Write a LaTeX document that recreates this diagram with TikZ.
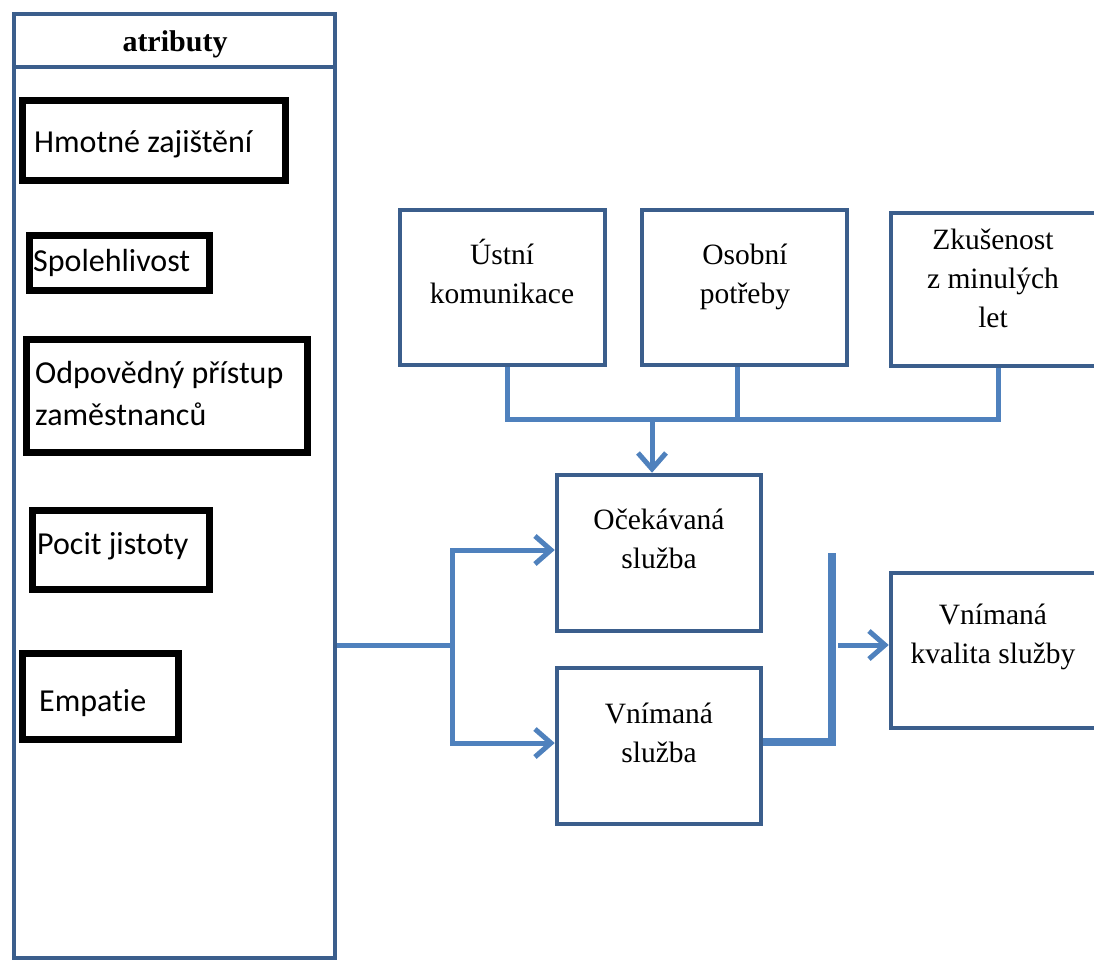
\documentclass[tikz,border=0pt]{standalone}
\usepackage{fontspec}
\setmainfont{Liberation Serif}
\newfontfamily\calibrilike[Ligatures=NoCommon]{Carlito}
\usetikzlibrary{arrows.meta,calc}
\definecolor{frameblue}{HTML}{3B5E8C}
\definecolor{linkblue}{HTML}{4F81BD}
\begin{document}
\begin{tikzpicture}[x=1pt,y=-1pt,
  frame/.style={draw=frameblue,line width=4.5pt},
  bluebox/.style={draw=frameblue,line width=4.5pt,rectangle,inner sep=0pt},
  blackbox/.style={draw=black,line width=7pt,rectangle,inner sep=0pt},
  serif/.style={font=\fontsize{29.5}{39}\selectfont,align=center,anchor=base,inner sep=0pt},
  sans/.style={font=\calibrilike\fontsize{32}{42}\selectfont,align=left,anchor=base west,inner sep=0pt},
  conn/.style={draw=linkblue,line width=5pt},
  barb/.tip={Straight Barb[length=16pt,width=28pt]},
  arr/.style={conn,-barb}
]
\useasboundingbox (0,0) rectangle (1094,963);

% attribute column
\node[bluebox,minimum width=321pt,minimum height=944pt] (attr) at (174.5,486) {};
\coordinate (hdr) at (0,67);
\draw[frame] (attr.west |- hdr) -- (attr.east |- hdr);
\node[font=\bfseries\fontsize{30}{36}\selectfont,anchor=base,inner sep=0pt] (hdrtext) at (175,52) {atributy};

% attributes (the kerns keep Carlito from joining t and i)
\node[blackbox,minimum width=263pt,minimum height=80pt] (hmotne) at (154,140.5) {};
\node[sans] (hmotnetext) at (34,152) {Hmotné zajištění};
\node[blackbox,minimum width=180pt,minimum height=55pt] (spol) at (119.5,263) {};
\node[sans] (spoltext) at (33,271) {Spolehlivost};
\node[blackbox,minimum width=281pt,minimum height=113pt] (odpov) at (167,396) {};
\node[sans] (odpovtext) at (35,425) {Odpovědný přístup\\zaměstnanců};
\node[blackbox,minimum width=177pt,minimum height=79pt] (pocit) at (121,550) {};
\node[sans] (pocittext) at (37,554) {Pocit jistoty};
\node[blackbox,minimum width=156pt,minimum height=86pt] (empatie) at (100.5,696.5) {};
\node[sans] (empatietext) at (39,711) {Empat\kern0pt ie};

% influencing factors
\node[bluebox,minimum width=205pt,minimum height=155pt] (ustni) at (502.5,287.5) {};
\node[serif] (ustnitext) at (502,303) {Ústní\\komunikace};
\node[bluebox,minimum width=205pt,minimum height=155pt] (osobni) at (744.5,287.5) {};
\node[serif] (osobnitext) at (745,303) {Osobní\\potřeby};
\node[bluebox,minimum width=207pt,minimum height=153pt] (zkus) at (994.5,289.5) {};
\node[serif] (zkustext) at (993,327) {Zkušenost\\z minulých\\let};

% service boxes
\node[bluebox,minimum width=204pt,minimum height=156pt] (ocek) at (659,553) {};
\node[serif] (ocektext) at (659,568) {Očekávaná\\služba};
\node[bluebox,minimum width=204pt,minimum height=156pt] (vnim) at (659,746) {};
\node[serif] (vnimtext) at (659,762) {Vnímaná\\služba};
\node[bluebox,minimum width=207pt,minimum height=155pt] (kval) at (994.5,650.5) {};
\node[serif] (kvaltext) at (993,663) {Vnímaná\\kvalita služby};

% bus from the factors to the expected service
\coordinate (busL) at (507,419);
\coordinate (busM) at (737,419);
\coordinate (busR) at (998,419);
\coordinate (busA) at (652,419);
\draw[conn] (ustni.south -| busL) -- (busL) -- (busR) -- (zkus.south -| busR);
\draw[conn] (osobni.south -| busM) -- (busM);
\draw[arr] (busA) -- (ocek.north -| busA);

% fork from the attributes
\coordinate (forkM) at (452,645);
\coordinate (forkT) at (452,550);
\coordinate (forkB) at (452,743);
\draw[conn] (attr.east |- forkM) -- (forkM);
\draw[conn,barb-barb] (ocek.west |- forkT) -- (forkT) -- (forkB) -- (vnim.west |- forkB);

% comparison towards perceived quality
\coordinate (joinB) at (832,742);
\coordinate (joinT) at (832,553);
\coordinate (outS) at (838,645);
\draw[conn,line width=7.5pt] (vnim.east |- joinB) -- (joinB) -- (joinT);
\draw[arr] (outS) -- (kval.west |- outS);
\end{tikzpicture}
\end{document}
